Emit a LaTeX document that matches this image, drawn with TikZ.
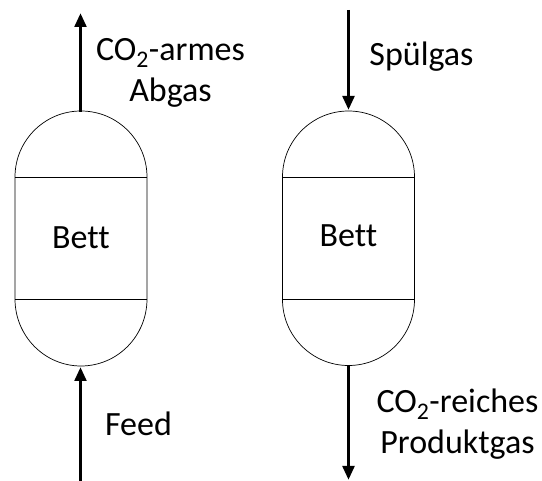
\documentclass[tikz,border=0pt]{standalone}
\usepackage{fontspec}
\setmainfont{Carlito}[Ligatures=NoCommon]
\usetikzlibrary{arrows.meta}
\tikzset{vessel/.style={draw=black,line width=0.7pt},
flow/.style={draw=black,line width=3.8pt,-{Triangle[length=14pt,width=11.5pt]}},
lab/.style={font=\fontsize{34pt}{41pt}\selectfont,align=center,inner sep=0pt}}
\newcommand{\subtwo}{\textsubscript{2}}
\begin{document}
\begin{tikzpicture}[x=1pt,y=-1pt]
\useasboundingbox (0,0) rectangle (542,481);
% left vessel
\draw[vessel] (15,177) arc[start angle=180,end angle=360,x radius=66,y radius=66] -- (147,299) arc[start angle=0,end angle=180,x radius=66,y radius=67] -- cycle;
\draw[vessel] (15,177) -- (147,177) (15,299) -- (147,299);
% right vessel
\draw[vessel] (282.5,177) arc[start angle=180,end angle=360,x radius=66,y radius=66] -- (414.5,299.5) arc[start angle=0,end angle=180,x radius=66,y radius=66] -- cycle;
\draw[vessel] (282.5,177) -- (414.5,177) (282.5,299.5) -- (414.5,299.5);
% anchors
\coordinate (ltop) at (80.5,112);
\coordinate (lout) at (80.5,13);
\coordinate (lin) at (80.5,481);
\coordinate (lbot) at (80.5,367);
\coordinate (rin) at (348.5,10);
\coordinate (rtop) at (348.5,110);
\coordinate (rbot) at (348.5,365);
\coordinate (rout) at (348.5,480);
\draw[flow] (ltop) -- (lout);
\draw[flow] (lin) -- (lbot);
\draw[flow] (rin) -- (rtop);
\draw[flow] (rbot) -- (rout);
% labels
\node[lab] (bl) at (81,238) {Bett};
\node[lab] (br) at (348.5,236) {Bett};
\node[lab] (t1) at (170.5,73) {CO\subtwo-armes\\Abgas};
\node[lab] (t2) at (421.5,57) {Spülgas};
\node[lab] (t3) at (138.5,424) {Feed};
\node[lab] (t4) at (457.5,424) {CO\subtwo-reiches\\Produktgas};
\end{tikzpicture}
\end{document}
